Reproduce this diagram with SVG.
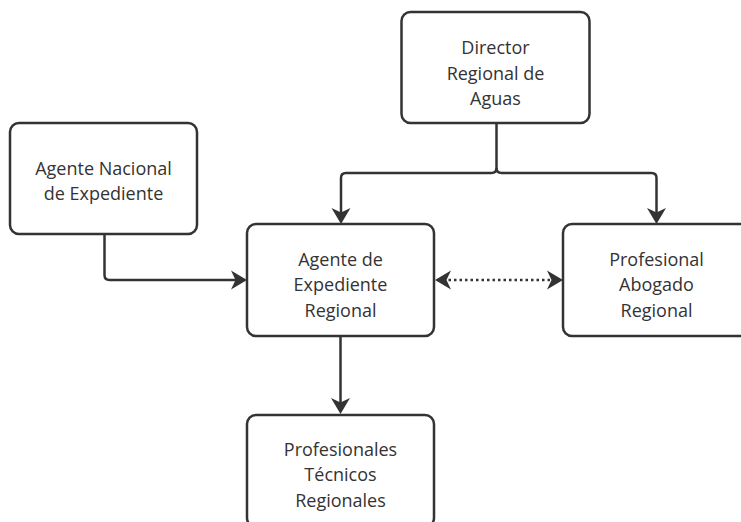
<svg xmlns="http://www.w3.org/2000/svg" width="741" height="522" viewBox="0 0 741 522">
<defs>
<style>
.box{fill:#fff;stroke:#333;stroke-width:2.5}
.lbl{font-family:"Open Sans","Noto Sans",sans-serif;font-size:18px;fill:#333;text-anchor:middle}
.ln{fill:none;stroke:#333;stroke-width:2.5}
.dot{stroke-dasharray:2.5 3}
</style>
<marker id="arr" viewBox="-9 -10 18 20" refX="0" refY="0" markerWidth="18" markerHeight="20" markerUnits="userSpaceOnUse" orient="auto-start-reverse">
<path d="M8,0 L-8,-9.5 L-3.5,0 L-8,9.5 Z" fill="#333"/>
</marker>
</defs>
<rect width="741" height="522" fill="#fff"/>
<g id="connectors">
<path class="ln" d="M496.5,123 V168 Q496.5,173 491.5,173 H346 Q341,173 341,178 V216" marker-end="url(#arr)"/>
<path class="ln" d="M496.5,168 Q496.5,173 501.5,173 H651.5 Q656.5,173 656.5,178 V216" marker-end="url(#arr)"/>
<path class="ln" d="M104.5,234 V275 Q104.5,280 109.5,280 H239" marker-end="url(#arr)"/>
<path class="ln dot" d="M443,280 H555" marker-start="url(#arr)" marker-end="url(#arr)"/>
<path class="ln" d="M340.5,336 V406" marker-end="url(#arr)"/>
</g>
<g id="director">
<rect class="box" x="401.5" y="12" width="188" height="111" rx="9"/>
<text class="lbl" x="495.5" y="54">Director</text>
<text class="lbl" x="495.5" y="79.5">Regional de</text>
<text class="lbl" x="495.5" y="105">Aguas</text>
</g>
<g id="agente-nacional">
<rect class="box" x="10" y="123" width="187" height="111" rx="9"/>
<text class="lbl" x="103.5" y="175">Agente Nacional</text>
<text class="lbl" x="103.5" y="200">de Expediente</text>
</g>
<g id="agente-regional">
<rect class="box" x="247" y="224" width="187" height="112" rx="9"/>
<text class="lbl" x="340.5" y="265.5">Agente de</text>
<text class="lbl" x="340.5" y="291">Expediente</text>
<text class="lbl" x="340.5" y="316.5">Regional</text>
</g>
<g id="abogado">
<rect class="box" x="563" y="224" width="187" height="112" rx="9"/>
<text class="lbl" x="656.5" y="265.5">Profesional</text>
<text class="lbl" x="656.5" y="291">Abogado</text>
<text class="lbl" x="656.5" y="316.5">Regional</text>
</g>
<g id="tecnicos">
<rect class="box" x="247" y="415" width="187" height="112" rx="9"/>
<text class="lbl" x="340.5" y="455.5">Profesionales</text>
<text class="lbl" x="340.5" y="481">Técnicos</text>
<text class="lbl" x="340.5" y="506.5">Regionales</text>
</g>
</svg>
